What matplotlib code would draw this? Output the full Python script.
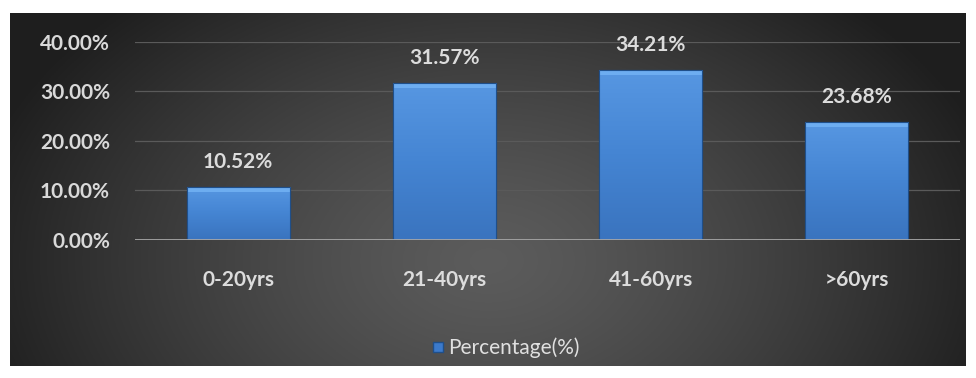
import numpy as np
import matplotlib
matplotlib.use("Agg")
import matplotlib.pyplot as plt
from matplotlib.lines import Line2D
from matplotlib.patches import Rectangle
from matplotlib.colors import LinearSegmentedColormap

categories = ["0-20yrs", "21-40yrs", "41-60yrs", ">60yrs"]
values = [10.52, 31.57, 34.21, 23.68]
value_labels = ["10.52%", "31.57%", "34.21%", "23.68%"]
yticks = [0, 10, 20, 30, 40]
ytick_labels = ["0.00%", "10.00%", "20.00%", "30.00%", "40.00%"]
series_name = "Percentage(%)"

plt.rcParams['font.family'] = ['Lato', 'DejaVu Sans']
W, H = 976, 378
fig = plt.figure(figsize=(W / 100, H / 100), dpi=100)
fig.patch.set_facecolor("white")

# background panel with radial gradient
bg = fig.add_axes([10 / W, 1 - 366 / H, 956 / W, 353 / H])
bg.set_axis_off()
ny, nx = 200, 540
yy, xx = np.mgrid[0:ny, 0:nx]
cx, cy = nx * 0.50, ny * 0.70
d = np.sqrt(((xx - cx) / (nx * 0.55)) ** 2 + ((yy - cy) / (ny * 1.0)) ** 2)
d = np.clip(d, 0, 1)
inner, outer = 0.36, 0.12
g = inner + (outer - inner) * d ** 1.3
img = np.dstack([g, g, g])
bg.imshow(img, aspect="auto", extent=[0, 1, 0, 1], origin="upper")
bg.set_xlim(0, 1)
bg.set_ylim(0, 1)

ax = fig.add_axes([135 / W, 1 - 239.5 / H, 825 / W, 197.8 / H])
ax.set_facecolor("none")
ax.set_xlim(-0.5, 3.5)
ax.set_ylim(0, 40)
for s in ax.spines.values():
    s.set_visible(False)

ax.set_yticks(yticks)
ax.set_yticklabels(ytick_labels)
ax.tick_params(axis="y", length=0, pad=18, labelsize=15, labelcolor="#d9d9d9")
for t in ax.get_yticklabels():
    t.set_fontweight("bold")
ax.yaxis.grid(True, color="#5a5a5a", linewidth=0.9)
ax.set_axisbelow(True)

x = np.arange(len(categories))
ax.set_xticks(x)
ax.set_xticklabels(categories)
ax.tick_params(axis="x", length=0, pad=22, labelsize=15, labelcolor="#dcdcdc")
for t in ax.get_xticklabels():
    t.set_fontweight("bold")

bars = ax.bar(x, values, width=0.5, color="#3c7acb", edgecolor="#1f4f8a",
              linewidth=0.8, zorder=3, label=series_name)

# gradient/bevel effect inside each bar
grad = np.linspace(0, 1, 100).reshape(-1, 1)
cmap = LinearSegmentedColormap.from_list("b", ["#3a74bf", "#4585d3", "#5797e2"])
for b in bars:
    x0, y0 = b.get_x(), b.get_y()
    w, h = b.get_width(), b.get_height()
    im = ax.imshow(grad, extent=[x0, x0 + w, y0, y0 + h], origin="lower",
                   cmap=cmap, aspect="auto", zorder=3.5)
    im.set_clip_path(b)
    bevel = 1.0
    top = Rectangle((x0, y0 + h - bevel), w, bevel, facecolor="#72b2f4",
                    edgecolor="none", zorder=3.6, alpha=0.85)
    ax.add_patch(top)
    ax.add_patch(Rectangle((x0, y0), w, h, facecolor="none",
                           edgecolor="#1f4f8a", linewidth=0.8, zorder=3.7))

ax.set_xlim(-0.5, 3.5)
ax.set_ylim(0, 40)
ax.axhline(0, color="#a6a6a6", linewidth=2.0, zorder=4)

for xi, v, lab in zip(x, values, value_labels):
    ax.annotate(lab, (xi, v), xytext=(0, 18), textcoords="offset points",
                ha="center", va="center", fontsize=15, color="#dcdcdc",
                fontweight="bold", annotation_clip=False)

handle = Line2D([], [], marker="s", linestyle="none", markersize=7,
                markerfacecolor="#3c7acb", markeredgecolor="#1f4f8a")
leg = fig.legend([handle], [series_name], loc="center",
                 bbox_to_anchor=(505 / W, 1 - 348 / H), frameon=False,
                 fontsize=15, handletextpad=0.1, handlelength=0.8,
                 labelcolor="#e0e0e0")

fig.savefig("out.png", dpi=100, facecolor="white")
